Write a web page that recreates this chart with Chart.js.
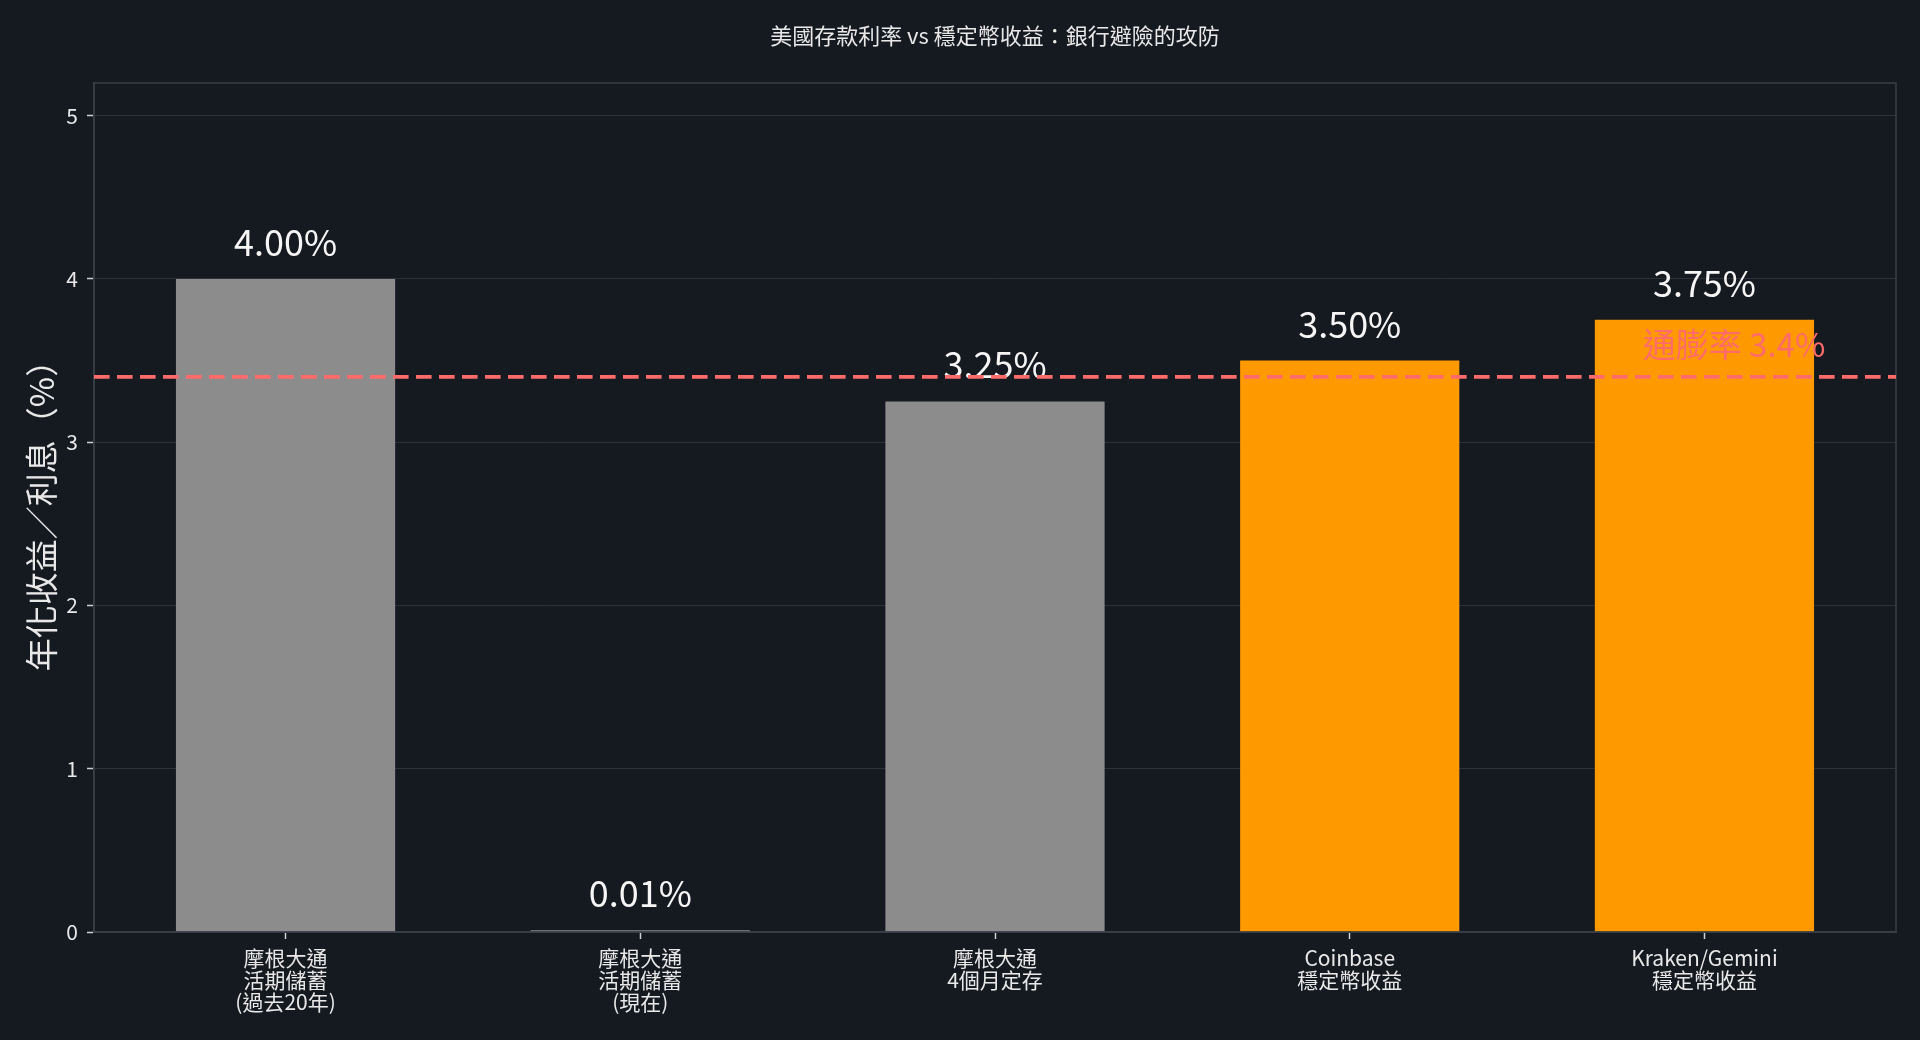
<!DOCTYPE html>
<html>
<head>
<meta charset="utf-8">
<script src="https://cdn.jsdelivr.net/npm/chart.js@4"></script>
<style>
html, body { margin: 0; padding: 0; background: #151920; }
canvas { display: block; }
</style>
</head>
<body>
<canvas id="chart" width="1920" height="1040"></canvas>
<script>
// data
const categories = [
    ['摩根大通', '活期儲蓄', '(過去20年)'],
    ['摩根大通', '活期儲蓄', '(現在)'],
    ['摩根大通', '4個月定存'],
    ['Coinbase', '穩定幣收益'],
    ['Kraken/Gemini', '穩定幣收益']
];
const rates = [4.00, 0.01, 3.25, 3.50, 3.75];
const barColors = ['#8c8c8c', '#8c8c8c', '#8c8c8c', '#ff9900', '#ff9900'];
const yTicks = [0, 1, 2, 3, 4, 5];
const inflationRate = 3.4;
const inflationLabel = '通膨率 3.4%';
const chartTitle = '美國存款利率 vs 穩定幣收益：銀行避險的攻防';
const yAxisTitle = '年化收益／利息（%）';

const FONT = '"Noto Sans CJK TC", "Noto Sans", sans-serif';
const TEXT = '#e8e8e8';
const FRAME = '#3a3e47';
const GRID = '#2d3139';
const RED = '#ff6b6b';
const INFLATION_LABEL_X = 3.826;

const extras = {
    id: 'extras',
    beforeDraw(chart) {
        const ctx = chart.ctx;
        ctx.save();
        ctx.fillStyle = '#151920';
        ctx.fillRect(0, 0, chart.width, chart.height);
        ctx.restore();
    },
    afterDatasetsDraw(chart) {
        const ctx = chart.ctx;
        const area = chart.chartArea;
        const x = chart.scales.x;
        const y = chart.scales.y;
        ctx.save();

        // frame round the plot
        ctx.strokeStyle = FRAME;
        ctx.lineWidth = 1.5;
        ctx.strokeRect(area.left, area.top, area.right - area.left, area.bottom - area.top);

        // value labels
        ctx.fillStyle = '#f5f5f5';
        ctx.font = '36px ' + FONT;
        ctx.textAlign = 'center';
        ctx.textBaseline = 'alphabetic';
        chart.getDatasetMeta(0).data.forEach((bar, i) => {
            ctx.fillText(rates[i].toFixed(2) + '%', bar.x, bar.y - 23);
        });

        // inflation line + label
        const ly = y.getPixelForValue(inflationRate);
        ctx.fillStyle = RED;
        ctx.font = '33px ' + FONT;
        ctx.textAlign = 'left';
        ctx.fillText(inflationLabel, x.getPixelForValue(INFLATION_LABEL_X), ly - 20);

        ctx.strokeStyle = RED;
        ctx.lineWidth = 3.8;
        ctx.setLineDash([15.6, 7.4]);
        ctx.beginPath();
        ctx.moveTo(area.left, ly);
        ctx.lineTo(area.right, ly);
        ctx.stroke();
        ctx.setLineDash([]);

        // title
        ctx.fillStyle = TEXT;
        ctx.font = '22px ' + FONT;
        ctx.textAlign = 'center';
        ctx.textBaseline = 'middle';
        ctx.fillText(chartTitle, (area.left + area.right) / 2, 36);

        // y axis title
        ctx.translate(41, (area.top + area.bottom) / 2);
        ctx.rotate(-Math.PI / 2);
        ctx.font = '33px ' + FONT;
        ctx.fillText(yAxisTitle, 0, 0);
        ctx.restore();
    }
};

new Chart(document.getElementById('chart'), {
    type: 'bar',
    data: {
        datasets: [{
            data: rates.map((v, i) => ({ x: i, y: v })),
            backgroundColor: barColors,
            borderWidth: 0,
            barPercentage: 0.618,
            categoryPercentage: 1
        }]
    },
    options: {
        responsive: false,
        animation: false,
        devicePixelRatio: 1,
        layout: { padding: { top: 83, right: 24, left: 0, bottom: 0 } },
        plugins: {
            legend: { display: false },
            title: { display: false },
            tooltip: { enabled: false }
        },
        scales: {
            x: {
                type: 'linear',
                min: -0.54,
                max: categories.length - 1 + 0.54,
                offset: false,
                afterBuildTicks: s => { s.ticks = categories.map((c, i) => ({ value: i })); },
                afterFit: s => { s.height = 108; },
                grid: {
                    offset: false,
                    drawOnChartArea: false,
                    tickLength: 7,
                    tickColor: '#d0d0d0',
                    tickWidth: 1.5
                },
                border: { display: true, color: FRAME, width: 1.5 },
                ticks: {
                    autoSkip: false,
                    maxRotation: 0,
                    padding: 8,
                    color: TEXT,
                    font: { family: FONT, size: 21, lineHeight: 1.05 },
                    callback: (value, index) => categories[index]
                }
            },
            y: {
                min: 0,
                max: 5.2,
                afterBuildTicks: s => { s.ticks = yTicks.map(v => ({ value: v })); },
                afterFit: s => { s.width = 94; },
                grid: {
                    color: GRID,
                    lineWidth: 1,
                    tickLength: 7,
                    tickColor: '#d0d0d0',
                    tickWidth: 1.5
                },
                border: { display: true, color: FRAME, width: 1.5 },
                ticks: {
                    padding: 9,
                    color: TEXT,
                    font: { family: FONT, size: 21 }
                }
            }
        }
    },
    plugins: [extras]
});
</script>
</body>
</html>
